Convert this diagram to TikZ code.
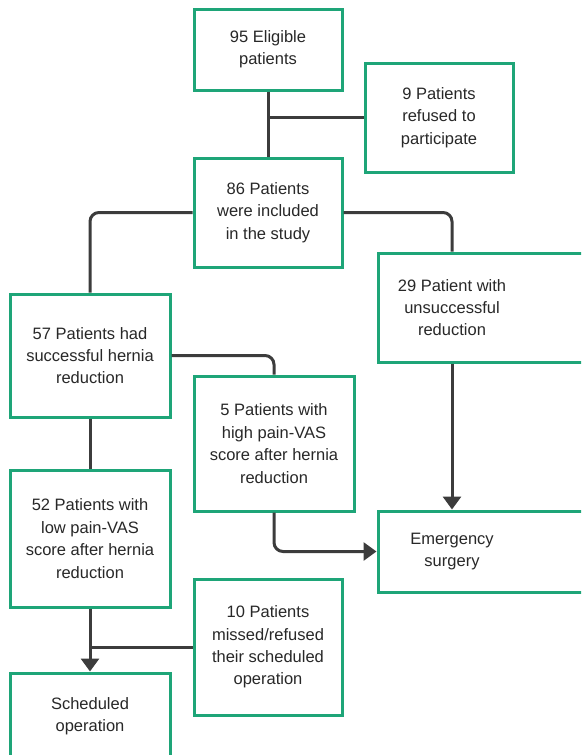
\documentclass[tikz,border=0pt]{standalone}
\usepackage{fontspec}
\setmainfont{Liberation Sans}
\usetikzlibrary{arrows.meta}
\definecolor{boxgreen}{RGB}{30,165,120}
\definecolor{linegray}{RGB}{60,60,60}
\definecolor{textgray}{RGB}{40,40,40}
\begin{document}
\begin{tikzpicture}[x=1pt,y=-1pt,
  flowbox/.style={draw=boxgreen, line width=3pt, fill=white, align=center,
    inner sep=0pt, text=textgray,
    font=\fontsize{16.5}{22.4}\selectfont},
  conn/.style={draw=linegray, line width=3pt, rounded corners=9pt},
  arr/.style={conn, -{Triangle[length=13pt,width=18pt]}}
]
\clip (0,0) rectangle (581,755);
\fill[white] (0,0) rectangle (581,755);

\node[flowbox, minimum width=148pt, minimum height=81pt] (n95) at (268,49.5) {95 Eligible\\patients};
\node[flowbox, minimum width=148pt, minimum height=109pt] (n9) at (439,117.5) {9 Patients\\refused to\\participate};
\node[flowbox, minimum width=148pt, minimum height=109pt] (n86) at (268,212.5) {86 Patients\\were included\\in the study};
\node[flowbox, minimum width=222pt, minimum height=109pt,
  label={[font=\fontsize{16.5}{22.4}\selectfont, text=textgray, align=center, xshift=-37pt]center:{29 Patient with\\unsuccessful\\reduction}}] (n29) at (489,307.5) {};
\node[flowbox, minimum width=160pt, minimum height=123pt] (n57) at (90,355.5) {57 Patients had\\successful hernia\\reduction};
\node[flowbox, minimum width=160pt, minimum height=135pt] (n5) at (274,443.5) {5 Patients with\\high pain-VAS\\score after hernia\\reduction};
\node[flowbox, minimum width=160pt, minimum height=137pt] (n52) at (90,538.5) {52 Patients with\\low pain-VAS\\score after hernia\\reduction};
\node[flowbox, minimum width=222pt, minimum height=81pt,
  label={[font=\fontsize{16.5}{22.4}\selectfont, text=textgray, align=center, xshift=-37pt]center:{Emergency\\surgery}}] (nE) at (489,551.5) {};
\node[flowbox, minimum width=148pt, minimum height=136pt] (n10) at (268,647) {10 Patients\\missed/refused\\their scheduled\\operation};
\node[flowbox, minimum width=160pt, minimum height=87pt] (nS) at (90,716.5) {Scheduled\\operation};

\draw[conn] (n95.south) -- (n86.north);
\draw[conn] (n9.west) -- (n9.west -| n95.south);
\draw[conn] (n86.west) -| (n57.north);
\draw[conn] (n86.east) -| ([xshift=-37pt]n29.north);
\draw[conn] (n57.east) -| (n5.north);
\draw[conn] (n57.south) -- (n52.north);
\draw[arr] ([xshift=-37pt]n29.south) -- ([xshift=-37pt]nE.north);
\draw[arr] (n5.south) |- (nE.west);
\draw[arr] (n52.south) -- (nS.north);
\draw[conn] (n10.west) -- (n10.west -| n52.south);
\end{tikzpicture}
\end{document}
